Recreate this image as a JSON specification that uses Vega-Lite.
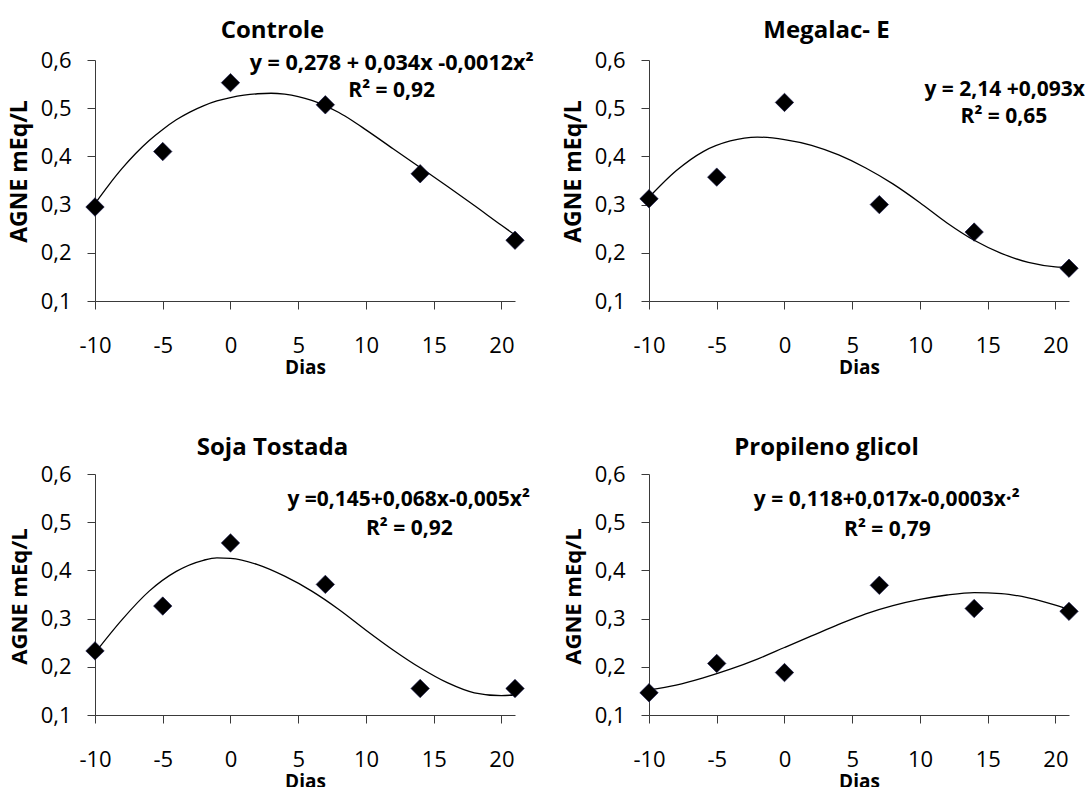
{
  "$schema": "https://vega.github.io/schema/vega-lite/v6.json",
  "background": "white",
  "padding": {"left": 8, "top": 19, "right": 0, "bottom": 0},
  "datasets": {
    "pts": [
      {"g": "Controle", "dia": -10, "agne": 0.295},
      {"g": "Controle", "dia": -5, "agne": 0.41},
      {"g": "Controle", "dia": 0, "agne": 0.553},
      {"g": "Controle", "dia": 7, "agne": 0.507},
      {"g": "Controle", "dia": 14, "agne": 0.364},
      {"g": "Controle", "dia": 21, "agne": 0.226},
      {"g": "Megalac", "dia": -10, "agne": 0.312},
      {"g": "Megalac", "dia": -5, "agne": 0.357},
      {"g": "Megalac", "dia": 0, "agne": 0.512},
      {"g": "Megalac", "dia": 7, "agne": 0.3},
      {"g": "Megalac", "dia": 14, "agne": 0.243},
      {"g": "Megalac", "dia": 21, "agne": 0.168},
      {"g": "Soja", "dia": -10, "agne": 0.233},
      {"g": "Soja", "dia": -5, "agne": 0.326},
      {"g": "Soja", "dia": 0, "agne": 0.457},
      {"g": "Soja", "dia": 7, "agne": 0.371},
      {"g": "Soja", "dia": 14, "agne": 0.155},
      {"g": "Soja", "dia": 21, "agne": 0.155},
      {"g": "Propileno", "dia": -10, "agne": 0.146},
      {"g": "Propileno", "dia": -5, "agne": 0.207},
      {"g": "Propileno", "dia": 0, "agne": 0.188},
      {"g": "Propileno", "dia": 7, "agne": 0.369},
      {"g": "Propileno", "dia": 14, "agne": 0.321},
      {"g": "Propileno", "dia": 21, "agne": 0.315}
    ],
    "fit": [
      {"g": "Controle", "dia": -10, "agne": 0.302},
      {"g": "Controle", "dia": -9, "agne": 0.34},
      {"g": "Controle", "dia": -8, "agne": 0.375},
      {"g": "Controle", "dia": -7, "agne": 0.406},
      {"g": "Controle", "dia": -6, "agne": 0.433},
      {"g": "Controle", "dia": -5, "agne": 0.456},
      {"g": "Controle", "dia": -4, "agne": 0.476},
      {"g": "Controle", "dia": -3, "agne": 0.492},
      {"g": "Controle", "dia": -2, "agne": 0.505},
      {"g": "Controle", "dia": -1, "agne": 0.515},
      {"g": "Controle", "dia": 0, "agne": 0.522},
      {"g": "Controle", "dia": 1, "agne": 0.527},
      {"g": "Controle", "dia": 2, "agne": 0.53},
      {"g": "Controle", "dia": 3, "agne": 0.531},
      {"g": "Controle", "dia": 4, "agne": 0.529},
      {"g": "Controle", "dia": 5, "agne": 0.524},
      {"g": "Controle", "dia": 6, "agne": 0.516},
      {"g": "Controle", "dia": 7, "agne": 0.505},
      {"g": "Controle", "dia": 8, "agne": 0.491},
      {"g": "Controle", "dia": 9, "agne": 0.474},
      {"g": "Controle", "dia": 10, "agne": 0.455},
      {"g": "Controle", "dia": 12, "agne": 0.416},
      {"g": "Controle", "dia": 14, "agne": 0.377},
      {"g": "Controle", "dia": 16, "agne": 0.338},
      {"g": "Controle", "dia": 18, "agne": 0.298},
      {"g": "Controle", "dia": 20, "agne": 0.257},
      {"g": "Controle", "dia": 21, "agne": 0.237},
      {"g": "Megalac", "dia": -10, "agne": 0.315},
      {"g": "Megalac", "dia": -8, "agne": 0.37},
      {"g": "Megalac", "dia": -6, "agne": 0.41},
      {"g": "Megalac", "dia": -4, "agne": 0.432},
      {"g": "Megalac", "dia": -2, "agne": 0.44},
      {"g": "Megalac", "dia": 0, "agne": 0.435},
      {"g": "Megalac", "dia": 2, "agne": 0.423},
      {"g": "Megalac", "dia": 4, "agne": 0.403},
      {"g": "Megalac", "dia": 6, "agne": 0.376},
      {"g": "Megalac", "dia": 8, "agne": 0.343},
      {"g": "Megalac", "dia": 10, "agne": 0.304},
      {"g": "Megalac", "dia": 12, "agne": 0.262},
      {"g": "Megalac", "dia": 14, "agne": 0.226},
      {"g": "Megalac", "dia": 16, "agne": 0.199},
      {"g": "Megalac", "dia": 18, "agne": 0.18},
      {"g": "Megalac", "dia": 20, "agne": 0.171},
      {"g": "Megalac", "dia": 21, "agne": 0.17},
      {"g": "Soja", "dia": -10, "agne": 0.229},
      {"g": "Soja", "dia": -8, "agne": 0.298},
      {"g": "Soja", "dia": -6, "agne": 0.357},
      {"g": "Soja", "dia": -4, "agne": 0.398},
      {"g": "Soja", "dia": -2, "agne": 0.421},
      {"g": "Soja", "dia": -1, "agne": 0.426},
      {"g": "Soja", "dia": 0, "agne": 0.425},
      {"g": "Soja", "dia": 2, "agne": 0.412},
      {"g": "Soja", "dia": 4, "agne": 0.388},
      {"g": "Soja", "dia": 6, "agne": 0.357},
      {"g": "Soja", "dia": 8, "agne": 0.319},
      {"g": "Soja", "dia": 10, "agne": 0.276},
      {"g": "Soja", "dia": 12, "agne": 0.235},
      {"g": "Soja", "dia": 14, "agne": 0.198},
      {"g": "Soja", "dia": 16, "agne": 0.167},
      {"g": "Soja", "dia": 18, "agne": 0.146},
      {"g": "Soja", "dia": 20, "agne": 0.14},
      {"g": "Soja", "dia": 21, "agne": 0.142},
      {"g": "Propileno", "dia": -10, "agne": 0.152},
      {"g": "Propileno", "dia": -8, "agne": 0.162},
      {"g": "Propileno", "dia": -6, "agne": 0.177},
      {"g": "Propileno", "dia": -4, "agne": 0.195},
      {"g": "Propileno", "dia": -2, "agne": 0.216},
      {"g": "Propileno", "dia": 0, "agne": 0.24},
      {"g": "Propileno", "dia": 2, "agne": 0.264},
      {"g": "Propileno", "dia": 4, "agne": 0.288},
      {"g": "Propileno", "dia": 6, "agne": 0.31},
      {"g": "Propileno", "dia": 8, "agne": 0.327},
      {"g": "Propileno", "dia": 10, "agne": 0.34},
      {"g": "Propileno", "dia": 12, "agne": 0.349},
      {"g": "Propileno", "dia": 14, "agne": 0.354},
      {"g": "Propileno", "dia": 16, "agne": 0.352},
      {"g": "Propileno", "dia": 18, "agne": 0.343},
      {"g": "Propileno", "dia": 20, "agne": 0.328},
      {"g": "Propileno", "dia": 21, "agne": 0.319}
    ]
  },
  "config": {
    "view": {"stroke": null},
    "axis": {
      "grid": false,
      "domainColor": "#3a3a3a",
      "tickColor": "#3a3a3a",
      "domainWidth": 1,
      "tickWidth": 1,
      "tickSize": 8,
      "labelFont": "Open Sans",
      "labelFontSize": 22,
      "labelColor": "#000000",
      "labelOverlap": false,
      "labelFlush": false,
      "labelBound": false,
      "titleFont": "Open Sans",
      "titleFontWeight": "bold",
      "titleColor": "#000000"
    },
    "axisX": {"labelPadding": 26, "titleFontSize": 19},
    "axisY": {"labelPadding": 16},
    "text": {"font": "Open Sans", "fontSize": 21, "fontWeight": "bold", "color": "#000000", "align": "center", "baseline": "middle"},
    "point": {"shape": "diamond", "filled": true, "size": 340, "fill": "#000000", "stroke": "#10104a", "strokeWidth": 0.6, "opacity": 1},
    "line": {"interpolate": "monotone", "color": "#000000", "strokeWidth": 1.3}
  },
  "columns": 2,
  "bounds": "flush",
  "spacing": {"row": 173, "column": 134},
  "concat": [
    {
      "width": 420, "height": 241,
      "layer": [
        {"data": {"name": "fit"}, "transform": [{"filter": "datum.g === 'Controle'"}], "mark": {"type": "line"},
         "encoding": {
           "x": {"field": "dia", "type": "quantitative", "scale": {"domain": [-10, 21], "nice": false, "zero": false},
                 "axis": {"values": [-10, -5, 0, 5, 10, 15, 20], "title": "Dias", "labelExpr": "datum.value < 0 ? '-' + (-datum.value) : '' + datum.value", "titleY": 72, "titleBaseline": "alphabetic"}},
           "y": {"field": "agne", "type": "quantitative", "scale": {"domain": [0.1, 0.6], "nice": false, "zero": false},
                 "axis": {"values": [0.1, 0.2, 0.3, 0.4, 0.5, 0.6], "title": "AGNE mEq/L", "labelExpr": "replace(format(datum.value, '.1f'), '.', ',')", "titleFontSize": 23, "titleX": -69, "titleY": 111, "titleAngle": 270, "titleBaseline": "alphabetic", "titleAlign": "center"}}
         }},
        {"data": {"name": "pts"}, "transform": [{"filter": "datum.g === 'Controle'"}], "mark": {"type": "point"},
         "encoding": {"x": {"field": "dia", "type": "quantitative"}, "y": {"field": "agne", "type": "quantitative"}}},
        {"data": {"values": [{"label": "Controle"}]}, "mark": {"type": "text", "fontSize": 24, "baseline": "alphabetic"},
         "encoding": {"x": {"datum": 3.1, "type": "quantitative"}, "y": {"datum": 0.6456, "type": "quantitative"}, "text": {"field": "label"}}},
        {"data": {"values": [{"label": "y = 0,278 + 0,034x -0,0012x²"}]}, "mark": {"type": "text", "fontSize": 21.6},
         "encoding": {"x": {"datum": 11.9, "type": "quantitative"}, "y": {"datum": 0.592, "type": "quantitative"}, "text": {"field": "label"}}},
        {"data": {"values": [{"label": "R² = 0,92"}]}, "mark": {"type": "text"},
         "encoding": {"x": {"datum": 11.9, "type": "quantitative"}, "y": {"datum": 0.535, "type": "quantitative"}, "text": {"field": "label"}}}
      ]
    },
    {
      "width": 420, "height": 241,
      "layer": [
        {"data": {"name": "fit"}, "transform": [{"filter": "datum.g === 'Megalac'"}], "mark": {"type": "line"},
         "encoding": {
           "x": {"field": "dia", "type": "quantitative", "scale": {"domain": [-10, 21], "nice": false, "zero": false},
                 "axis": {"values": [-10, -5, 0, 5, 10, 15, 20], "title": "Dias", "labelExpr": "datum.value < 0 ? '-' + (-datum.value) : '' + datum.value", "titleY": 72, "titleBaseline": "alphabetic"}},
           "y": {"field": "agne", "type": "quantitative", "scale": {"domain": [0.1, 0.6], "nice": false, "zero": false},
                 "axis": {"values": [0.1, 0.2, 0.3, 0.4, 0.5, 0.6], "title": "AGNE mEq/L", "labelExpr": "replace(format(datum.value, '.1f'), '.', ',')", "titleFontSize": 23, "titleX": -69, "titleY": 111, "titleAngle": 270, "titleBaseline": "alphabetic", "titleAlign": "center"}}
         }},
        {"data": {"name": "pts"}, "transform": [{"filter": "datum.g === 'Megalac'"}], "mark": {"type": "point"},
         "encoding": {"x": {"field": "dia", "type": "quantitative"}, "y": {"field": "agne", "type": "quantitative"}}},
        {"data": {"values": [{"label": "Megalac- E"}]}, "mark": {"type": "text", "fontSize": 24, "baseline": "alphabetic"},
         "encoding": {"x": {"datum": 3.1, "type": "quantitative"}, "y": {"datum": 0.6456, "type": "quantitative"}, "text": {"field": "label"}}},
        {"data": {"values": [{"label": "y = 2,14 +0,093x"}]}, "mark": {"type": "text"},
         "encoding": {"x": {"datum": 16.25, "type": "quantitative"}, "y": {"datum": 0.537, "type": "quantitative"}, "text": {"field": "label"}}},
        {"data": {"values": [{"label": "R² = 0,65"}]}, "mark": {"type": "text"},
         "encoding": {"x": {"datum": 16.2, "type": "quantitative"}, "y": {"datum": 0.481, "type": "quantitative"}, "text": {"field": "label"}}}
      ]
    },
    {
      "width": 420, "height": 241,
      "layer": [
        {"data": {"name": "fit"}, "transform": [{"filter": "datum.g === 'Soja'"}], "mark": {"type": "line"},
         "encoding": {
           "x": {"field": "dia", "type": "quantitative", "scale": {"domain": [-10, 21], "nice": false, "zero": false},
                 "axis": {"values": [-10, -5, 0, 5, 10, 15, 20], "title": "Dias", "labelExpr": "datum.value < 0 ? '-' + (-datum.value) : '' + datum.value", "titleY": 72, "titleBaseline": "alphabetic"}},
           "y": {"field": "agne", "type": "quantitative", "scale": {"domain": [0.1, 0.6], "nice": false, "zero": false},
                 "axis": {"values": [0.1, 0.2, 0.3, 0.4, 0.5, 0.6], "title": "AGNE mEq/L", "labelExpr": "replace(format(datum.value, '.1f'), '.', ',')", "titleFontSize": 22, "titleX": -69, "titleY": 122, "titleAngle": 270, "titleBaseline": "alphabetic", "titleAlign": "center"}}
         }},
        {"data": {"name": "pts"}, "transform": [{"filter": "datum.g === 'Soja'"}], "mark": {"type": "point"},
         "encoding": {"x": {"field": "dia", "type": "quantitative"}, "y": {"field": "agne", "type": "quantitative"}}},
        {"data": {"values": [{"label": "Soja Tostada"}]}, "mark": {"type": "text", "fontSize": 24, "baseline": "alphabetic"},
         "encoding": {"x": {"datum": 3.1, "type": "quantitative"}, "y": {"datum": 0.6384, "type": "quantitative"}, "text": {"field": "label"}}},
        {"data": {"values": [{"label": "y =0,145+0,068x-0,005x²"}]}, "mark": {"type": "text"},
         "encoding": {"x": {"datum": 13.15, "type": "quantitative"}, "y": {"datum": 0.547, "type": "quantitative"}, "text": {"field": "label"}}},
        {"data": {"values": [{"label": "R² = 0,92"}]}, "mark": {"type": "text"},
         "encoding": {"x": {"datum": 13.2, "type": "quantitative"}, "y": {"datum": 0.485, "type": "quantitative"}, "text": {"field": "label"}}}
      ]
    },
    {
      "width": 420, "height": 241,
      "layer": [
        {"data": {"name": "fit"}, "transform": [{"filter": "datum.g === 'Propileno'"}], "mark": {"type": "line"},
         "encoding": {
           "x": {"field": "dia", "type": "quantitative", "scale": {"domain": [-10, 21], "nice": false, "zero": false},
                 "axis": {"values": [-10, -5, 0, 5, 10, 15, 20], "title": "Dias", "labelExpr": "datum.value < 0 ? '-' + (-datum.value) : '' + datum.value", "titleY": 72, "titleBaseline": "alphabetic"}},
           "y": {"field": "agne", "type": "quantitative", "scale": {"domain": [0.1, 0.6], "nice": false, "zero": false},
                 "axis": {"values": [0.1, 0.2, 0.3, 0.4, 0.5, 0.6], "title": "AGNE mEq/L", "labelExpr": "replace(format(datum.value, '.1f'), '.', ',')", "titleFontSize": 22, "titleX": -69, "titleY": 122, "titleAngle": 270, "titleBaseline": "alphabetic", "titleAlign": "center"}}
         }},
        {"data": {"name": "pts"}, "transform": [{"filter": "datum.g === 'Propileno'"}], "mark": {"type": "point"},
         "encoding": {"x": {"field": "dia", "type": "quantitative"}, "y": {"field": "agne", "type": "quantitative"}}},
        {"data": {"values": [{"label": "Propileno glicol"}]}, "mark": {"type": "text", "fontSize": 24, "baseline": "alphabetic"},
         "encoding": {"x": {"datum": 3.1, "type": "quantitative"}, "y": {"datum": 0.6384, "type": "quantitative"}, "text": {"field": "label"}}},
        {"data": {"values": [{"label": "y = 0,118+0,017x-0,0003x·²"}]}, "mark": {"type": "text"},
         "encoding": {"x": {"datum": 7.55, "type": "quantitative"}, "y": {"datum": 0.547, "type": "quantitative"}, "text": {"field": "label"}}},
        {"data": {"values": [{"label": "R² = 0,79"}]}, "mark": {"type": "text"},
         "encoding": {"x": {"datum": 7.6, "type": "quantitative"}, "y": {"datum": 0.483, "type": "quantitative"}, "text": {"field": "label"}}}
      ]
    }
  ]
}
